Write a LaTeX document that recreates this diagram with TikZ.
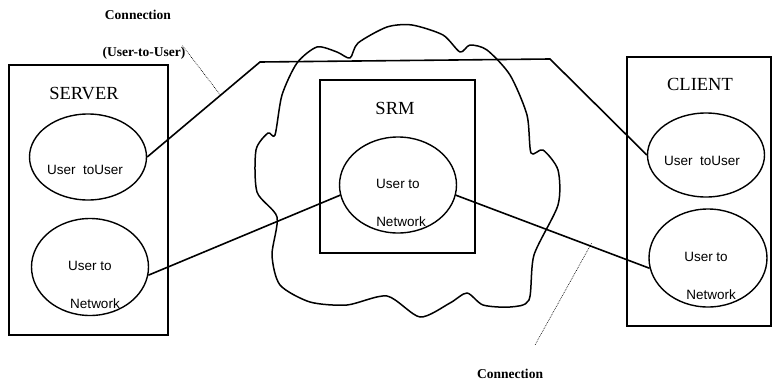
\documentclass[tikz,border=0pt]{standalone}
\usepackage{fontspec}
\setmainfont{Liberation Serif}
\setsansfont{Liberation Sans}
\usetikzlibrary{shapes.geometric}

\tikzset{
  box/.style={draw,line width=1.3pt,inner sep=0pt},
  proc/.style={draw,ellipse,line width=1.4pt,inner sep=0pt,minimum width=117pt},
  wire/.style={line width=1.6pt},
  hint/.style={line width=0.6pt,dash pattern=on 0.8pt off 1pt},
  title/.style={font=\fontsize{18.5}{20}\selectfont},
  tag/.style={font=\sffamily\fontsize{13.5}{15}\selectfont},
  note/.style={font=\bfseries\fontsize{13.5}{15}\selectfont,inner sep=1pt},
}

\begin{document}
\begin{tikzpicture}[x=1pt,y=-1pt]
  \useasboundingbox (0,0) rectangle (776,380);

  % the network cloud
  \draw[line width=1.5pt,line join=round] plot[smooth cycle,tension=0.45] coordinates {
    (387,27) (412,25) (443,35) (460,52) (470,45) (487,50) (510,75)
    (527,115) (531,153) (543,150) (558,170) (558,205) (534,255)
    (529,300) (510,307) (483,305) (467,293) (450,303) (420,317)
    (387,296) (347,305) (310,302) (280,285) (272,255) (277,217)
    (257,192) (256,150) (268,133) (275,135) (282,95) (297,63)
    (317,47) (337,52) (350,58) (358,43)};

  % hosts
  \node[box,minimum width=159pt,minimum height=270pt] (server) at (88.5,200) {};
  \node[box,minimum width=155pt,minimum height=173pt] (srm) at (397.5,166.5) {};
  \node[box,minimum width=144pt,minimum height=269pt] (client) at (699,191.5) {};
  \node[title] at (84,94) {SERVER};
  \node[title] at (395,108) {SRM};
  \node[title] at (700,84) {CLIENT};

  % protocol layers
  \node[proc,minimum height=86pt] (sutu) at (88,157) {};
  \node[proc,minimum height=97pt] (snet) at (90,267) {};
  \node[proc,minimum height=96pt] (mutn) at (398,185) {};
  \node[proc,minimum height=84pt] (cutu) at (706,155) {};
  \node[proc,minimum width=118pt,minimum height=98pt] (cnet) at (708,258) {};

  \node[tag] at (85,170) {User\ \ toUser};
  \node[tag] at (90,266) {User to};
  \node[tag] at (95,304) {Network};
  \node[tag] at (398,184) {User to};
  \node[tag] at (401,222) {Network};
  \node[tag] at (702,161) {User\ \ toUser};
  \node[tag] at (706,257) {User to};
  \node[tag] at (711,295) {Network};

  % connections
  \coordinate (kneeL) at (260,62);
  \coordinate (kneeR) at (550,59);
  \draw[wire] (sutu.east) -- (kneeL) -- (kneeR) -- (cutu.west);
  \draw[wire] (snet.-8) -- (mutn.190);
  \draw[wire] (mutn.-10) -- (cnet.190);

  % callouts
  \node[note] (lblA) at (138,15) {Connection};
  \node[note] (lblB) at (144,53) {(User-to-User)};
  \node[note] (lblC) at (510,374) {Connection};
  \path (sutu.east) -- (kneeL) coordinate[pos=0.65] (tapU);
  \path (mutn.-10) -- (cnet.190) coordinate[pos=0.7] (tapD);
  \coordinate (tail) at (535,345);
  \draw[hint] ([xshift=-4pt]lblB.north east) -- (tapU);
  \draw[hint] ([yshift=3pt]tapD) -- (tail);
\end{tikzpicture}
\end{document}
